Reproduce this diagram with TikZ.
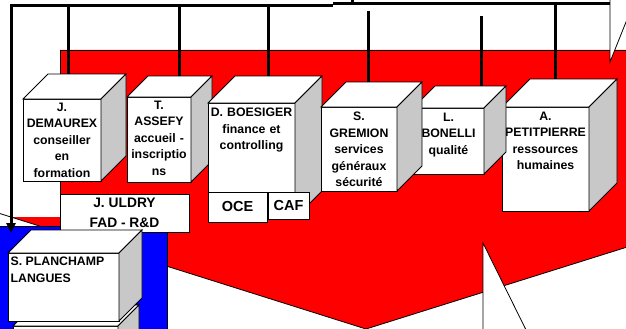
\documentclass[tikz,border=0pt]{standalone}
\usepackage{fontspec}
\setmainfont{Liberation Sans}
\usetikzlibrary{arrows.meta,positioning}
\definecolor{sidegray}{RGB}{200,200,200}
\definecolor{chartred}{RGB}{255,0,0}
\definecolor{chartblue}{RGB}{0,0,255}
\pgfdeclarelayer{back}
\pgfdeclarelayer{wires}
\pgfsetlayers{back,wires,main}
% top and side faces of a box node: #1 node, #2 depth
\newcommand{\cubefaces}[2]{%
\draw[boxline,fill=white] (#1.north west) -- ++(#2,-#2) -- ([shift={(#2,-#2)}]#1.north east) -- (#1.north east) -- cycle;
\draw[boxline,fill=sidegray] (#1.north east) -- ++(#2,-#2) -- ([shift={(#2,-#2)}]#1.south east) -- (#1.south east) -- cycle;
}

\begin{document}
\begin{tikzpicture}[x=1pt,y=-1pt,
  boxline/.style={draw=black,line width=0.8pt},
  facebox/.style={boxline,fill=white,inner sep=0pt,outer sep=0pt,anchor=north west},
  boxtext/.style={font=\fontsize{12.3}{16.5}\selectfont\bfseries,align=center,inner sep=0pt,anchor=north},
  bigtext/.style={font=\fontsize{14.5}{20}\selectfont\bfseries,align=center},
  wire/.style={line width=3pt,black}]
\useasboundingbox (0,0) rectangle (626,329);

% background shapes
\begin{pgfonlayer}{back}
\fill[chartred] (60,50) -- (640,50) -- (640,243) -- (366,329) -- (11,217) -- (60,217) -- cycle;
\draw[boxline] (60,217) -- (60,50) -- (640,50);
\draw[boxline] (640,243) -- (366,329) -- (-5,212);
\draw[boxline,fill=chartblue] (-5,226) rectangle (167,340);
\end{pgfonlayer}

% boxes
\node[facebox,minimum width=64pt,minimum height=85pt] (assefy) at (127,97) {};
\cubefaces{assefy}{21}
\node[boxtext,text width=64pt] (assefyT) at ([yshift=-3.5pt]assefy.north) {T.\\ASSEFY\\accueil -\\inscriptio\\ns};

\node[facebox,minimum width=78pt,minimum height=82pt] (demaurex) at (23,99) {};
\cubefaces{demaurex}{25}
\node[boxtext,text width=78pt] (demaurexT) at ([yshift=-3.5pt]demaurex.north) {J.\\DEMAUREX\\conseiller\\en\\formation};

\node[facebox,minimum width=87pt,minimum height=115pt] (boesiger) at (208,103) {};
\cubefaces{boesiger}{27}
\node[boxtext,text width=87pt] (boesigerT) at ([yshift=-5pt]boesiger.north) {D. BOESIGER\\finance et\\controlling};
\node[facebox,bigtext,minimum width=59pt,minimum height=30pt] (oce) at (208,192) {OCE};
\node[facebox,bigtext,minimum width=41pt,minimum height=27pt] (caf) at (268,192) {CAF};

\node[facebox,minimum width=87pt,minimum height=104pt] (petitpierre) at (502,107) {};
\cubefaces{petitpierre}{28}
\node[boxtext,text width=87pt] (petitpierreT) at ([yshift=-4.5pt]petitpierre.north) {A.\\PETITPIERRE\\ressources\\humaines};

\node[facebox,minimum width=71pt,minimum height=66pt] (bonelli) at (413,108) {};
\cubefaces{bonelli}{22}
\node[boxtext,text width=71pt] (bonelliT) at ([yshift=-4.5pt]bonelli.north) {L.\\BONELLI\\qualité};

\node[facebox,minimum width=76pt,minimum height=84pt] (gremion) at (321,107) {};
\cubefaces{gremion}{25}
\node[boxtext,text width=76pt] (gremionT) at ([yshift=-5pt]gremion.north) {S.\\GREMION\\services\\généraux\\sécurité};

\node[facebox,font=\fontsize{13.8}{20}\selectfont\bfseries,align=center,minimum width=129pt,minimum height=38pt] (uldry) at (60,194) {J. ULDRY\\FAD - R\&D};

\node[facebox,minimum width=105pt,minimum height=30pt] (langues2) at (13,326) {};
\cubefaces{langues2}{21}
\node[facebox,minimum width=111pt,minimum height=68pt] (planchamp) at (8,253) {};
\cubefaces{planchamp}{23}
\node[boxtext,align=left,anchor=north west] (planchampT) at ([shift={(2.5pt,-4pt)}]planchamp.north west) {S. PLANCHAMP\\LANGUES};

% connectors
\coordinate (busleft) at (11,6);
\coordinate (busmid) at (333,6);
\coordinate (busmidb) at (333,4);
\coordinate (busright) at (610,4);
\coordinate (arrowend) at (11,233);
\coordinate (t1) at (68,6);
\coordinate (t2) at (179,6);
\coordinate (t3) at (268,6);
\coordinate (t4) at (368,11);
\coordinate (t5) at (481,16);
\coordinate (t6) at (555,4);
\coordinate (up1) at (352,-3);
\coordinate (up2) at (352,4);
\begin{pgfonlayer}{wires}
\draw[wire,-{Triangle[length=10pt,width=9pt]}] (busmid) -- (busleft) -- (arrowend);
\draw[wire] (busmidb) -- (busright);
\draw[wire] (up1) -- (up2);
\draw[wire] (t1) -- (t1 |- demaurex.north);
\draw[wire] (t2) -- (t2 |- assefy.north);
\draw[wire] (t3) -- (t3 |- boesiger.north);
\draw[wire] (t4) -- (t4 |- gremion.north);
\draw[wire] (t5) -- (t5 |- bonelli.north);
\draw[wire] (t6) -- (t6 |- petitpierre.north);
\end{pgfonlayer}

% callout tails
\draw[boxline,fill=white] (610,-5) -- (610,62) -- (632,7) -- (632,-5);
\draw[boxline,fill=white] (483,340) -- (483,243) -- (531,340);
\end{tikzpicture}
\end{document}
